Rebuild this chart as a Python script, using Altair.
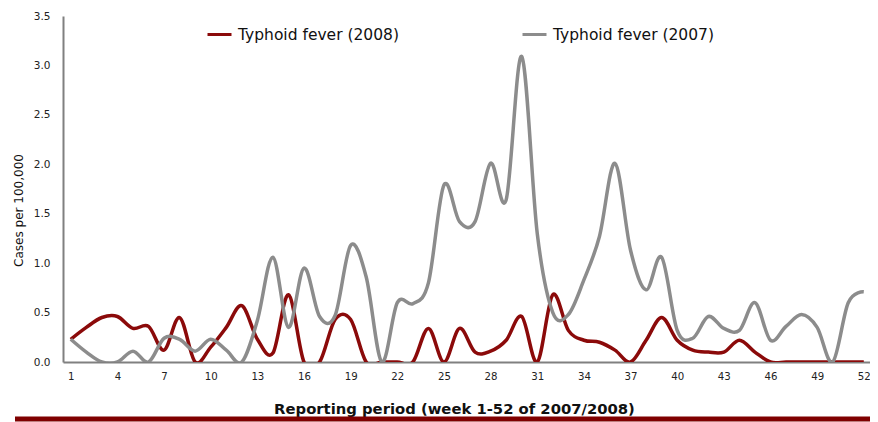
import altair as alt
import pandas as pd

weeks = list(range(1, 53))
cases_2008 = [0.23, 0.35, 0.45, 0.46, 0.34, 0.36, 0.12, 0.45, 0.0, 0.15,
              0.35, 0.57, 0.23, 0.09, 0.68, 0.0, 0.0, 0.43, 0.43, 0.0,
              0.0, 0.0, 0.0, 0.34, 0.0, 0.34, 0.1, 0.11, 0.22, 0.46,
              0.0, 0.68, 0.32, 0.22, 0.2, 0.12, 0.0, 0.22, 0.45, 0.22,
              0.12, 0.1, 0.1, 0.22, 0.1, 0.0, 0.0, 0.0, 0.0, 0.0,
              0.0, 0.0]
cases_2007 = [0.23, 0.1, 0.0, 0.0, 0.11, 0.0, 0.24, 0.23, 0.11, 0.23,
              0.12, 0.0, 0.42, 1.06, 0.35, 0.95, 0.46, 0.47, 1.18, 0.86,
              0.0, 0.6, 0.59, 0.8, 1.79, 1.42, 1.42, 2.01, 1.64, 3.09,
              1.3, 0.5, 0.48, 0.83, 1.27, 2.01, 1.13, 0.73, 1.06, 0.32,
              0.24, 0.46, 0.34, 0.32, 0.6, 0.22, 0.36, 0.48, 0.35, 0.0,
              0.6, 0.71]
series_names = ["Typhoid fever (2008)", "Typhoid fever (2007)"]
series_colors = ["#8b0a0a", "#8c8c8c"]
x_ticks = list(range(1, 53, 3))
y_ticks = [0.0, 0.5, 1.0, 1.5, 2.0, 2.5, 3.0, 3.5]

rows = []
for name, vals in zip(series_names, [cases_2008, cases_2007]):
    for w, v in zip(weeks, vals):
        rows.append({"series": name, "week": w, "cases": v})
df = pd.DataFrame(rows)

FONT = "DejaVu Sans"

lines = alt.Chart(df).mark_line(interpolate="cardinal", strokeWidth=3.5, clip=True).encode(
    x=alt.X("week:Q",
            scale=alt.Scale(domain=[0.5, 52.4], nice=False, zero=False),
            axis=alt.Axis(values=x_ticks, title="Reporting period (week 1-52 of 2007/2008)",
                          grid=False, ticks=False, domainColor="#808080", domainWidth=2,
                          labelFont=FONT, labelFontSize=10.2, labelColor="#222222",
                          labelPadding=9, labelFlush=False,
                          titleFont=FONT, titleFontSize=14.8, titleFontWeight="bold",
                          titleColor="#111111", titleX=391, titleY=47,
                          titleAlign="center", titleBaseline="middle")),
    y=alt.Y("cases:Q",
            scale=alt.Scale(domain=[0, 3.5], nice=False),
            axis=alt.Axis(values=y_ticks, format=".1f", title="Cases per 100,000",
                          grid=False, ticks=False, domainColor="#808080", domainWidth=2,
                          labelFont=FONT, labelFontSize=10.5, labelColor="#222222",
                          labelPadding=13,
                          titleFont=FONT, titleFontSize=12, titleFontWeight="normal",
                          titleColor="#111111", titleX=-45, titleY=194, titleAngle=270,
                          titleAlign="center", titleBaseline="middle")),
    color=alt.Color("series:N",
                    scale=alt.Scale(domain=series_names, range=series_colors),
                    legend=alt.Legend(orient="none", legendX=143, legendY=5,
                                      direction="horizontal", title=None,
                                      symbolType="stroke", symbolSize=576,
                                      symbolStrokeWidth=3, labelFont=FONT,
                                      labelFontSize=15.5, labelColor="#111111",
                                      labelOffset=5, columnPadding=117,
                                      padding=0, labelLimit=300)),
)

bar = alt.Chart(pd.DataFrame({"deco": [0]})).mark_rule(color="#7f0000", strokeWidth=5).encode(
    x=alt.value(-48), x2=alt.value(815), y=alt.value(403)
)

chart = alt.layer(lines, bar).properties(
    width=807, height=346,
    autosize=alt.AutoSizeParams(type="none"),
    padding={"left": 55, "top": 8, "right": 0, "bottom": 60},
    background="white",
).configure_view(stroke=None)

chart.save("out.html", embed_options={"renderer": "svg", "actions": False})
